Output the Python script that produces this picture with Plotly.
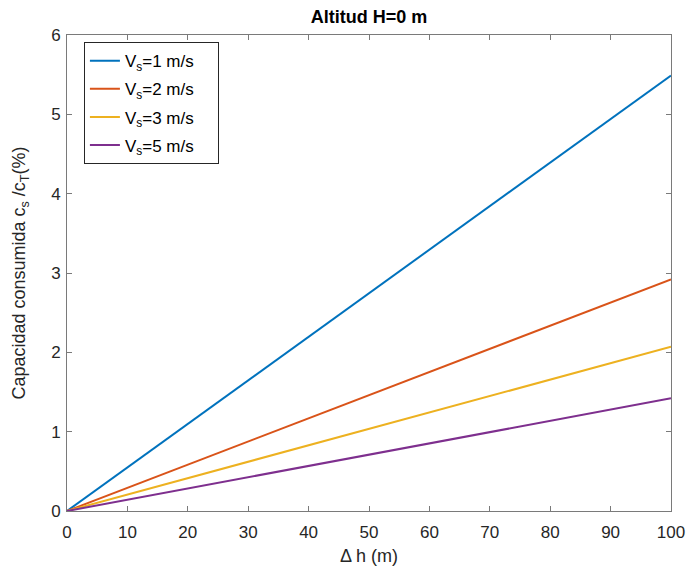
import plotly.graph_objects as go

dh = [0, 100]
names = ["V<sub>s</sub>=1 m/s", "V<sub>s</sub>=2 m/s", "V<sub>s</sub>=3 m/s", "V<sub>s</sub>=5 m/s"]
vs1 = [0, 5.49]
vs2 = [0, 2.92]
vs3 = [0, 2.07]
vs5 = [0, 1.42]
colors = ["#0072BD", "#D95319", "#EDB120", "#7E2F8E"]
x_ticks = [0, 10, 20, 30, 40, 50, 60, 70, 80, 90, 100]
y_ticks = [0, 1, 2, 3, 4, 5, 6]

fig = go.Figure()
for i, (nm, ys, c) in enumerate(zip(names, [vs1, vs2, vs3, vs5], colors)):
    fig.add_trace(go.Scatter(x=dh, y=ys, mode="lines", name=nm + "\u00a0\u00a0\u00a0\u00a0",
                             legendgroup=f"g{i}", line=dict(color=c, width=2)))

axcol = "#7a7a7a"
fig.update_layout(
    width=688, height=570,
    margin=dict(l=67, r=17, t=35, b=59),
    paper_bgcolor="white", plot_bgcolor="white",
    font=dict(family="Liberation Sans, Arial, sans-serif", size=17, color="#262626"),
    title=dict(text="<b>Altitud H=0 m</b>", x=(67 + 671) / 2 / 688, xanchor="center",
               y=1 - 17 / 570, yanchor="middle", font=dict(size=18, color="#000000")),
    legend=dict(x=0.028, y=0.985, xanchor="left", yanchor="top",
                bgcolor="white", bordercolor="#262626", borderwidth=1,
                font=dict(size=17, color="#000000"), tracegroupgap=3),
    showlegend=True,
)
fig.update_xaxes(range=[0, 100], tickvals=x_ticks, ticks="inside", ticklen=5,
                 tickcolor=axcol, showline=True, linecolor=axcol, linewidth=1,
                 mirror="ticks", showgrid=False, zeroline=False, automargin=False,
                 ticklabelstandoff=6,
                 title=dict(text="Δ h (m)", standoff=7, font=dict(size=18)))
fig.update_yaxes(range=[0, 6], tickvals=y_ticks, ticks="inside", ticklen=5,
                 tickcolor=axcol, showline=True, linecolor=axcol, linewidth=1,
                 mirror="ticks", showgrid=False, zeroline=False, automargin=False,
                 ticklabelstandoff=2,
                 title=dict(text="Capacidad consumida c<sub>s</sub> /c<sub>T</sub>(%)",
                            standoff=20, font=dict(size=18)))

fig.write_html("out.html")
